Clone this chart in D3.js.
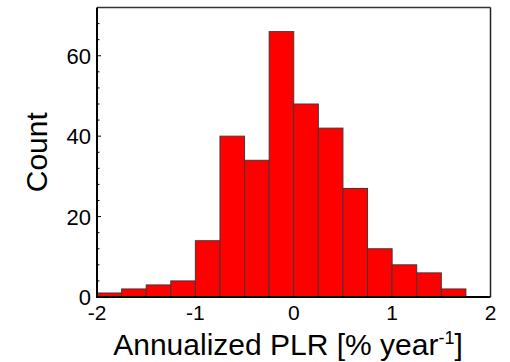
<!DOCTYPE html>
<html>
<head>
<meta charset="utf-8">
<script src="https://cdn.jsdelivr.net/npm/d3@7"></script>
<style>
  body { margin: 0; background: #fff; }
  text { font-family: "Liberation Sans", Arial, sans-serif; fill: #000; }
</style>
</head>
<body>
<svg id="chart" width="510" height="362"></svg>
<script>
// histogram bins (left edges, width 0.25) and counts
var binStarts = [-2, -1.75, -1.5, -1.25, -1, -0.75, -0.5, -0.25, 0, 0.25, 0.5, 0.75, 1, 1.25, 1.5];
var binWidth = 0.25;
var counts = [1, 2, 3, 4, 14, 40, 34, 66, 48, 42, 27, 12, 8, 6, 2];
var xTicks = [-2, -1, 0, 1, 2];
var yTicks = [0, 20, 40, 60];
var yMinor = [4, 8, 12, 16, 24, 28, 32, 36, 44, 48, 52, 56, 64, 68];

var svg = d3.select('#chart');
var L = 97, R = 490.5, T = 7.5, B = 297;

var x = d3.scaleLinear().domain([-2, 2]).range([L, R]);
var y = d3.scaleLinear().domain([0, 72]).range([B, T]);

// bars
svg.append('g').selectAll('rect')
  .data(binStarts)
  .enter().append('rect')
  .attr('x', function(d) { return x(d); })
  .attr('width', function(d) { return x(d + binWidth) - x(d); })
  .attr('y', function(d, i) { return y(counts[i]); })
  .attr('height', function(d, i) { return B - y(counts[i]); })
  .attr('fill', '#ff0000')
  .attr('stroke', '#4a3434')
  .attr('stroke-width', 1);

// frame
svg.append('line').attr('x1', L).attr('x2', R).attr('y1', T).attr('y2', T)
  .attr('stroke', '#333').attr('stroke-width', 1.5);
svg.append('line').attr('x1', R).attr('x2', R).attr('y1', T).attr('y2', B)
  .attr('stroke', '#222').attr('stroke-width', 1.5);

// y axis: inward ticks, labels placed by hand
var yAxis = svg.append('g').attr('transform', 'translate(' + L + ',0)');
yAxis.selectAll('.major').data(yTicks).enter().append('line')
  .attr('x1', 0).attr('x2', 4)
  .attr('y1', function(d) { return y(d); }).attr('y2', function(d) { return y(d); })
  .attr('stroke', '#000').attr('stroke-width', 1);
yAxis.selectAll('.minor').data(yMinor).enter().append('line')
  .attr('x1', 0).attr('x2', 2.5)
  .attr('y1', function(d) { return y(d); }).attr('y2', function(d) { return y(d); })
  .attr('stroke', '#000').attr('stroke-width', 1);
yAxis.selectAll('text').data(yTicks).enter().append('text')
  .attr('x', -6).attr('y', function(d) { return y(d); })
  .attr('dy', '0.36em')
  .attr('text-anchor', 'end')
  .style('font-size', '22px')
  .text(function(d) { return d; });

// x tick labels
svg.append('g').selectAll('text').data(xTicks).enter().append('text')
  .attr('x', function(d) { return x(d); }).attr('y', 320)
  .attr('text-anchor', 'middle')
  .style('font-size', '21px')
  .text(function(d) { return d; });

// axis lines
svg.append('line').attr('x1', L).attr('x2', L).attr('y1', T).attr('y2', B + 1)
  .attr('stroke', '#000').attr('stroke-width', 2);
svg.append('line').attr('x1', L - 1).attr('x2', R).attr('y1', B).attr('y2', B)
  .attr('stroke', '#000').attr('stroke-width', 2);

// axis titles
var xt = svg.append('text')
  .attr('x', 288).attr('y', 355)
  .attr('text-anchor', 'middle')
  .style('font-size', '30px');
xt.append('tspan').text('Annualized PLR [% year');
xt.append('tspan').attr('dy', -11).style('font-size', '18px').text('-1');
xt.append('tspan').attr('dy', 11).text(']');

svg.append('text')
  .attr('transform', 'translate(47,' + ((T + B) / 2) + ') rotate(-90)')
  .attr('text-anchor', 'middle')
  .style('font-size', '30px')
  .text('Count');
</script>
</body>
</html>
